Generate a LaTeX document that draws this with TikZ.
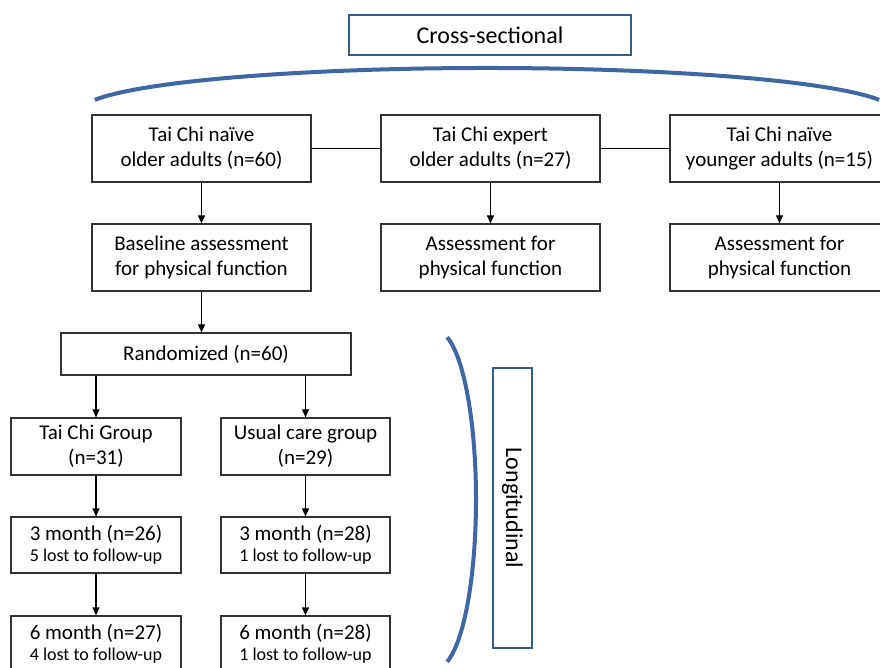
\documentclass[tikz,border=0pt]{standalone}
\usepackage{fontspec}
\setmainfont{Carlito}
\usetikzlibrary{arrows.meta}
\definecolor{boxblue}{RGB}{56,93,138}
\definecolor{arcblue}{RGB}{62,103,163}
\definecolor{edge}{RGB}{50,50,50}
\begin{document}
\begin{tikzpicture}[x=1pt,y=1pt,
  box/.style={draw=edge, line width=1.2pt, minimum width=219pt, minimum height=67pt,
    inner sep=0pt, align=center, font=\fontsize{21}{25}\selectfont},
  sbox/.style={box, minimum width=170pt, minimum height=56pt},
  titlebox/.style={draw=boxblue, line width=2pt, inner sep=0pt,
    font=\fontsize{24}{28}\selectfont},
  conn/.style={draw=black, line width=1.2pt},
  arr/.style={conn, -{Triangle[length=8pt,width=7pt]}},
  bracket/.style={draw=arcblue, line width=4pt}
]
\clip (0,0) rectangle (880,667);
\fill[white] (0,0) rectangle (880,667);

\node[titlebox, minimum width=282pt, minimum height=40pt] (cross) at (490,632) {Cross-sectional};

\node[box] (naive) at (201.5,518.5) {Tai Chi naïve\\older adults (n=60)};
\node[box] (expert) at (490.5,518.5) {Tai Chi expert\\older adults (n=27)};
\node[box] (young) at (779.5,518.5) {Tai Chi naïve\\younger adults (n=15)};

\node[box] (base) at (201.5,409.5) {Baseline assessment\\for physical function};
\node[box] (assE) at (490.5,409.5) {Assessment for\\physical function};
\node[box] (assY) at (779.5,409.5) {Assessment for\\physical function};

\node[box, minimum width=290pt, minimum height=42pt] (rand) at (206,313) {Randomized (n=60)};

\node[box, minimum width=170pt, minimum height=57pt] (tcg) at (96,220.5) {Tai Chi Group\\(n=31)};
\node[box, minimum width=169pt, minimum height=57pt] (ucg) at (305.5,220.5) {Usual care group\\(n=29)};

\node[sbox] (t3) at (96,122) {3 month (n=26)\\[-4pt]{\fontsize{18}{21}\selectfont 5 lost to follow-up}};
\node[sbox, minimum width=169pt] (u3) at (305.5,122) {3 month (n=28)\\[-4pt]{\fontsize{18}{21}\selectfont 1 lost to follow-up}};
\node[sbox] (t6) at (96,23) {6 month (n=27)\\[-4pt]{\fontsize{18}{21}\selectfont 4 lost to follow-up}};
\node[sbox, minimum width=169pt] (u6) at (305.5,23) {6 month (n=28)\\[-4pt]{\fontsize{18}{21}\selectfont 1 lost to follow-up}};

\node[titlebox, rotate=-90, minimum width=280pt, minimum height=39pt] (long) at (512.5,159) {Longitudinal};

% connectors
\draw[conn] (naive.east) -- (expert.west);
\draw[conn] (expert.east) -- (young.west);
\draw[arr] (naive.south) -- (base.north);
\draw[arr] (expert.south) -- (assE.north);
\draw[arr] (young.south) -- (assY.north);
\draw[arr] (base.south) -- (base.south |- rand.north);
\draw[arr] (rand.south -| tcg.north) -- (tcg.north);
\draw[arr] (rand.south -| ucg.north) -- (ucg.north);
\draw[arr] (tcg.south) -- (t3.north);
\draw[arr] (ucg.south) -- (u3.north);
\draw[arr] (t3.south) -- (t6.north);
\draw[arr] (u3.south) -- (u6.north);

% brackets
\coordinate (topL) at (94.83,567.13);
\draw[bracket] (topL) arc[start angle=165, end angle=15, x radius=406, y radius=43];
\coordinate (rightT) at (447.09,329.78);
\draw[bracket] (rightT) arc[start angle=75, end angle=-75, x radius=39, y radius=168];
\end{tikzpicture}
\end{document}
